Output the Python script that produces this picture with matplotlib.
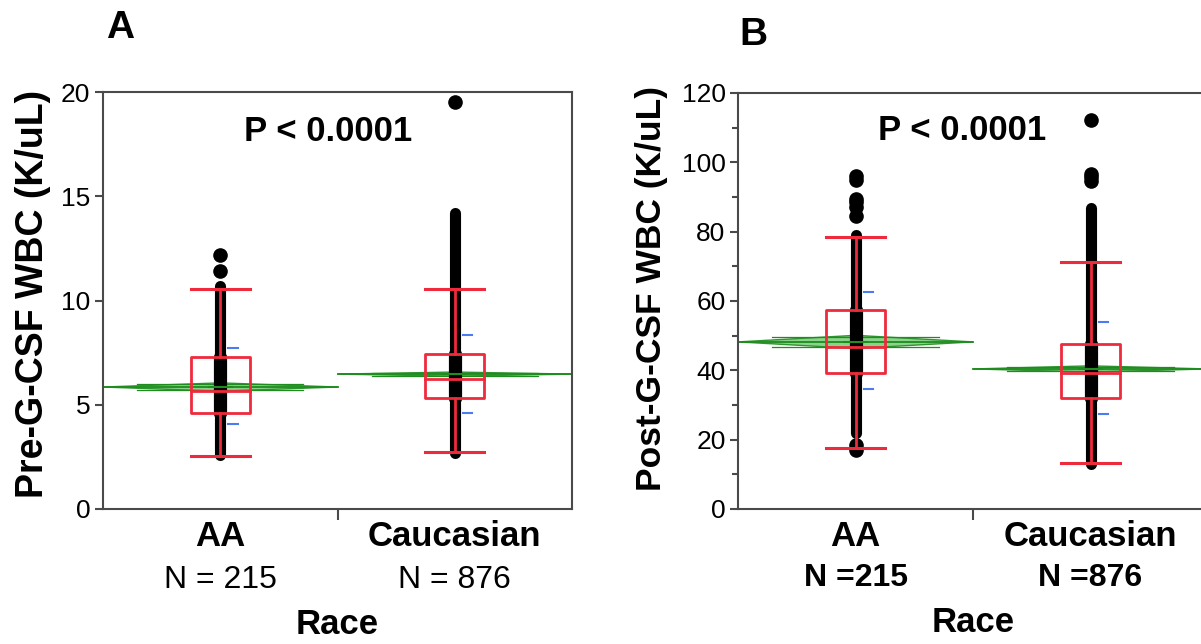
import matplotlib
matplotlib.use("Agg")
import matplotlib.pyplot as plt
import matplotlib.transforms as mtransforms
from matplotlib.patches import Rectangle, Polygon

plt.rcParams['font.family'] = ['Liberation Sans', 'DejaVu Sans']

groups = ["AA", "Caucasian"]

# panel A: pre-G-CSF WBC (K/uL)
pre_n_labels = ["N = 215", "N = 876"]
pre_q1 = [4.6, 5.32]
pre_median = [5.66, 6.23]
pre_q3 = [7.29, 7.43]
pre_whisk_lo = [2.54, 2.73]
pre_whisk_hi = [10.55, 10.55]
pre_mean = [5.85, 6.47]
pre_ci = [0.2, 0.1]
pre_sd_lo = [4.08, 4.6]
pre_sd_hi = [7.72, 8.35]
pre_dense_lo = [2.6, 2.7]
pre_dense_hi = [10.7, 14.2]
pre_points = [[11.4, 12.2], [19.5]]

# panel B: post-G-CSF WBC (K/uL)
post_n_labels = ["N =215", "N =876"]
post_q1 = [39.2, 32.1]
post_median = [46.7, 39.3]
post_q3 = [57.4, 47.6]
post_whisk_lo = [17.6, 13.3]
post_whisk_hi = [78.5, 71.2]
post_mean = [48.2, 40.4]
post_ci = [1.9, 0.9]
post_sd_lo = [34.6, 27.4]
post_sd_hi = [62.6, 54.0]
post_dense_lo = [22.0, 13.0]
post_dense_hi = [79.0, 86.8]
post_points = [[17.0, 18.6, 84.5, 87.0, 88.5, 89.5, 95.0, 96.0],
               [94.5, 95.7, 96.7, 112.2]]

RED = "#ee2a3c"
GREEN = "#1e8c1e"
BLUE = "#4a7cf0"
AXC = "#4a4a4a"


def draw_panel(ax, q1, med, q3, wlo, whi, mean, ci, sdlo, sdhi, dlo, dhi, pts):
    for i in range(len(groups)):
        xc = i + 0.5
        # mean diamond spanning whole group width
        diamond = Polygon([[i, mean[i]], [xc, mean[i] + ci[i]], [i + 1, mean[i]],
                           [xc, mean[i] - ci[i]]], closed=True,
                          facecolor="#7fcf7f", edgecolor=GREEN, lw=1.0, alpha=0.9, zorder=2)
        ax.add_patch(diamond)
        ax.plot([i, i + 1], [mean[i], mean[i]], color=GREEN, lw=1.3, zorder=2)
        ov = ci[i] * 0.707
        half = 0.5 * (1 - 0.707)
        for s in (-1, 1):
            ax.plot([i + half, i + 1 - half], [mean[i] + s * ov] * 2,
                    color=GREEN, lw=0.9, zorder=2)
        # the dense column of individual points
        ax.plot([xc, xc], [dlo[i], dhi[i]], color="black", lw=8.0,
                solid_capstyle="round", zorder=3)
        ax.plot([xc, xc], [q1[i], q3[i]], color="black", lw=9.5,
                solid_capstyle="round", zorder=3)
        ax.plot([xc] * len(pts[i]), pts[i], "o", color="black", ms=9.5, zorder=3)
        # green mean line over the column
        ax.plot([xc - 0.05, xc + 0.05], [mean[i], mean[i]], color=GREEN, lw=1.5, zorder=4)
        # box plot
        bw = 0.25
        ax.add_patch(Rectangle((xc - bw / 2, q1[i]), bw, q3[i] - q1[i], fill=False,
                               edgecolor=RED, lw=2.0, joinstyle="round", zorder=5))
        ax.plot([xc - bw / 2, xc + bw / 2], [med[i], med[i]], color=RED, lw=2.0, zorder=5)
        ax.plot([xc, xc], [wlo[i], q1[i]], color=RED, lw=2.0, zorder=5)
        ax.plot([xc, xc], [q3[i], whi[i]], color=RED, lw=2.0, zorder=5)
        for w in (wlo[i], whi[i]):
            ax.plot([xc - bw / 2, xc + bw / 2], [w, w], color=RED, lw=2.2, zorder=5)
        # mean +/- sd marks
        for s in (sdlo[i], sdhi[i]):
            ax.plot([xc + 0.035, xc + 0.075], [s, s], color=BLUE, lw=1.5, zorder=4)

    ax.set_xlim(0, 2)
    ax.set_xticks([1.0])
    ax.set_xticklabels([])
    ax.tick_params(axis="x", length=8, width=1.5, color=AXC)
    ax.tick_params(axis="y", labelsize=19, width=1.5, color=AXC, length=6, pad=3)
    for sp in ax.spines.values():
        sp.set_color(AXC)
        sp.set_linewidth(1.5)


fig = plt.figure(figsize=(12.01, 6.44), dpi=100)
W, H = 1201.0, 644.0
axA = fig.add_axes([103 / W, 1 - 509 / H, 469 / W, 417 / H])
axB = fig.add_axes([738 / W, 1 - 509 / H, 470 / W, 416 / H])

draw_panel(axA, pre_q1, pre_median, pre_q3, pre_whisk_lo, pre_whisk_hi, pre_mean, pre_ci,
           pre_sd_lo, pre_sd_hi, pre_dense_lo, pre_dense_hi, pre_points)
draw_panel(axB, post_q1, post_median, post_q3, post_whisk_lo, post_whisk_hi, post_mean, post_ci,
           post_sd_lo, post_sd_hi, post_dense_lo, post_dense_hi, post_points)

axA.set_ylim(0, 20)
axA.set_yticks([0, 5, 10, 15, 20])
axB.set_ylim(0, 120)
axB.set_yticks(range(0, 121, 20))
axB.set_yticks(range(10, 120, 20), minor=True)
axB.tick_params(axis="y", which="minor", length=4, width=1.5, color=AXC)

axA.text(0.958, 18.1, "P < 0.0001", fontsize=25, fontweight="bold", ha="center", va="center")
axB.text(0.954, 109.3, "P < 0.0001", fontsize=25, fontweight="bold", ha="center", va="center")

fig.text(33 / W, 1 - 294 / H, "Pre-G-CSF WBC (K/uL)", rotation=90, fontsize=27,
         fontweight="bold", ha="center", va="center")
fig.text(651 / W, 1 - 289 / H, "Post-G-CSF WBC (K/uL)", rotation=90, fontsize=25.5,
         fontweight="bold", ha="center", va="center")

fig.text(120 / W, 1 - 28 / H, "A", fontsize=28, fontweight="bold", ha="center", va="center")
fig.text(753 / W, 1 - 35 / H, "B", fontsize=28, fontweight="bold", ha="center", va="center")

for ax, nlab, nweight, ys in [(axA, pre_n_labels, "normal", (537, 580, 625)),
                              (axB, post_n_labels, "bold", (537, 578, 623))]:
    tr = mtransforms.blended_transform_factory(ax.transData, fig.transFigure)
    for i, g in enumerate(groups):
        ax.text(i + 0.5, 1 - ys[0] / H, g, transform=tr, fontsize=25, fontweight="bold",
                ha="center", va="center")
        ax.text(i + 0.5, 1 - ys[1] / H, nlab[i], transform=tr, fontsize=23,
                fontweight=nweight, ha="center", va="center")
    ax.text(1.0, 1 - ys[2] / H, "Race", transform=tr, fontsize=25, fontweight="bold",
            ha="center", va="center")

fig.savefig("out.png", dpi=100)
